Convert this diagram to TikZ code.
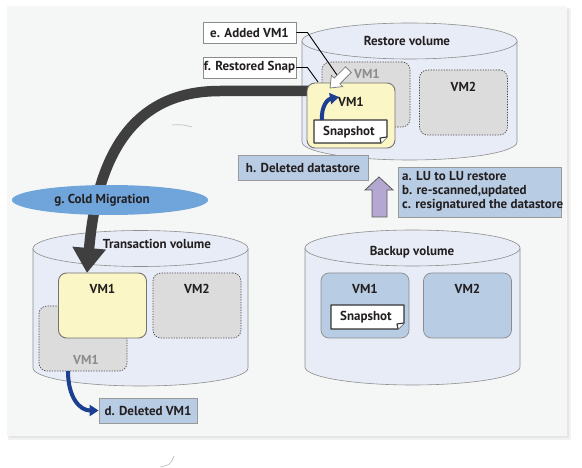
\documentclass[tikz,border=0pt]{standalone}
\usepackage{fontspec}
\setmainfont{PT Sans}
\usetikzlibrary{arrows.meta,shapes.geometric}
\definecolor{panel}{HTML}{F5F7F7}
\definecolor{cylfill}{HTML}{E8ECF7}
\definecolor{cylline}{HTML}{8E8E8E}
\definecolor{vmyel}{HTML}{FBF6C5}
\definecolor{vmgr}{HTML}{DCDCDC}
\definecolor{lblue}{HTML}{B8CCE4}
\definecolor{darkarr}{HTML}{3F3F3F}
\definecolor{gell}{HTML}{70A5DC}
\definecolor{purp}{HTML}{B4A8D3}
\definecolor{barr}{HTML}{1D3F91}
\definecolor{txt}{HTML}{231F20}
\newcommand\drawmycyl[3]{%
  \path[cylbody] (#1-107.5,#2) -- (#1-107.5,#3)
     arc[start angle=180,end angle=360,x radius=107.5pt,y radius=18pt]
     -- (#1+107.5,#2) -- cycle;
  \path[cylbody] (#1,#2) ellipse[x radius=107.5pt,y radius=18pt];}
\newcommand\drawmynote[4]{%
  \path[notebox] (#1,#2) -- (#3,#2) -- (#3,#4-6) -- (#3-6,#4) -- (#1,#4) -- cycle;
  \path[notebox] (#3,#4-6) -- (#3-7,#4-5) -- (#3-6,#4);}
\begin{document}
\begin{tikzpicture}[x=1pt,y=-1pt,
  every node/.style={font=\bfseries\fontsize{13}{14}\selectfont, text=txt, inner sep=0pt},
  cylbody/.style={fill=cylfill, draw=cylline, line width=0.6pt},
  vmyellow/.style={fill=vmyel, draw=black!55, line width=0.9pt, rounded corners=8pt, minimum width=88pt, minimum height=65pt},
  vmgray/.style={fill=vmgr, draw=black!70, line width=0.7pt, dash pattern=on 1.3pt off 1.3pt, rounded corners=8pt, minimum width=88pt, minimum height=65pt},
  vmblue/.style={fill=lblue, draw=black!45, line width=0.7pt, rounded corners=8pt, minimum width=88pt, minimum height=65pt},
  whitelbl/.style={fill=white, draw=black!45, line width=0.9pt},
  bluelbl/.style={fill=lblue, draw=black!40, line width=0.8pt},
  notebox/.style={fill=white, draw=black!80, line width=1.1pt, line join=round},
  ghosttxt/.style={text=black!45},
  bluearrow/.style={draw=barr, line width=4pt, -{Triangle[width=11pt,length=9pt]}},
  leader/.style={draw=black, line width=0.9pt}
]
\useasboundingbox (0,0) rectangle (582,468);
% panel with shadow
\fill[black!5] (8,8) rectangle (571,440);
\fill[black!10] (9,9) rectangle (569,438);
\fill[panel] (7,6) rectangle (567,436);
% faint artifacts
\draw[black!25, line width=0.7pt] (172,125) .. controls (182,124.5) .. (192,127);
\draw[black!25, line width=0.7pt] (160,467) .. controls (170,465) .. (174,456);

% cylinders
\drawmycyl{409.5}{41}{142}
\drawmycyl{412.5}{248}{367}
\drawmycyl{140.5}{248.5}{368}
\node (restorelbl) at (407,41) {Restore volume};
\node (backuplbl) at (412,252) {Backup volume};
\node (translbl) at (157,244) {Transaction volume};

% backup contents
\node[vmblue] (bvm1) at (365,305.5) {};
\node[vmblue] (bvm2) at (467.5,305.5) {};
\node (bvm1lbl) at (365,289) {VM1};
\node (bvm2lbl) at (467.5,289) {VM2};
\drawmynote{331}{305}{404}{329}
\node (bsnap) at (366,317) {Snapshot};

% transaction contents
\node[vmgray] (tghost) at (83,338.5) {};
\node[ghosttxt] (tghostlbl) at (86,360) {VM1};
\node[vmgray] (tvm2) at (197,305.5) {};
\node (tvm2lbl) at (197,289) {VM2};

% restore contents (background)
\node[vmgray] (rghost) at (366,94.5) {};
\node[ghosttxt] (rghostlbl) at (367,74) {VM1};
\node[vmgray] (rvm2) at (463.5,102.5) {};
\node (rvm2lbl) at (463.5,87) {VM2};

% big cold migration arrow
\coordinate (bigstart) at (312,91);
\coordinate (bigtip) at (87,273);
\draw[darkarr, line width=10.5pt, -{Triangle[width=32pt,length=25pt]}]
  (bigstart) -- (220,91) .. controls (140,91) and (98,145) .. (bigtip);

% transaction yellow VM1
\node[vmyellow] (tvm1) at (102.5,305.5) {};
\node (tvm1lbl) at (102.5,289) {VM1};

% restore yellow VM1
\node[vmyellow] (rvm1) at (351,115.5) {};
\node (rvm1lbl) at (351,102) {VM1};
\drawmynote{314}{120}{387}{143}
\node (rsnap) at (349,132) {Snapshot};
\coordinate (rbstart) at (322,120);
\coordinate (rbend) at (339,97);
\draw[bluearrow] (rbstart) .. controls (321,106) and (328,99) .. (rbend);

% g ellipse
\node[fill=gell, ellipse, minimum width=196pt, minimum height=30pt] (gell) at (110,200) {};
\node (glbl) at (102,200) {g.\ Cold Migration};

% label boxes
\node[whitelbl, minimum width=93pt, minimum height=21pt] (ebox) at (249.5,32.5) {e. Added VM1};
\node[whitelbl, minimum width=93pt, minimum height=21pt] (fbox) at (249.5,67.5) {f. Restored Snap};
\coordinate (eend) at (337,75);
\coordinate (fend) at (318,82);
\draw[leader] (ebox.east) -- ++(11,0) -- (eend);
\draw[leader] (fbox.east) -- ++(11,0) -- (fend);
% white block arrow
\path[fill=white, draw=black!50, line width=0.8pt, line join=miter]
  (330,88) -- (342.7,86.6) -- (339.9,83.8) -- (351.2,72.5) -- (345.6,66.8)
  -- (334.2,78.1) -- (331.4,75.3) -- cycle;

\node[bluelbl, minimum width=130pt, minimum height=25pt] (hbox) at (303,167.5) {h. Deleted datastore};
\node[bluelbl, minimum width=163pt, minimum height=50pt] (abcbox) at (479.5,192) {};
\node[anchor=west, align=left, font=\bfseries\fontsize{13}{14}\selectfont] (abctxt) at (402,191) {a. LU to LU restore\\b. re-scanned,updated\\c. resignatured the datastore};
% purple up arrow
\path[fill=purp, draw=black!65, line width=0.8pt]
  (372,217) -- (372,190) -- (365,190) -- (379,177) -- (393,190) -- (387,190) -- (387,217) -- cycle;

% d box and arrow
\node[bluelbl, minimum width=98pt, minimum height=25pt] (dbox) at (148,410.5) {d. Deleted VM1};
\coordinate (dstart) at (68,371);
\draw[bluearrow] (dstart) .. controls (68,398) and (80,410.5) .. (dbox.west);
\end{tikzpicture}
\end{document}
